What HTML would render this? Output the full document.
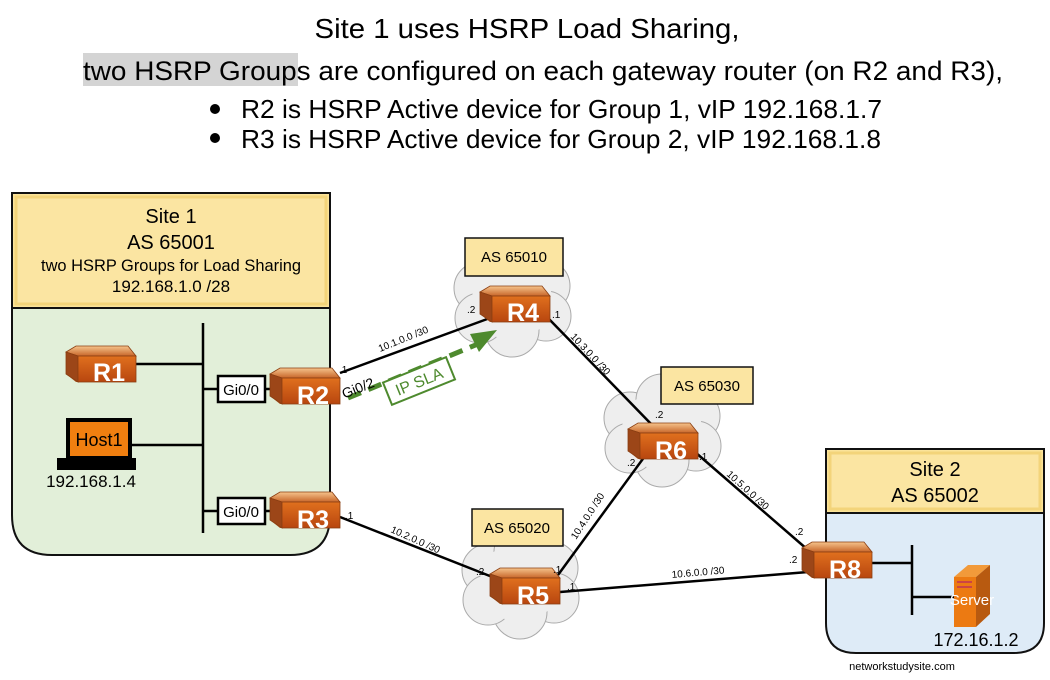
<!DOCTYPE html>
<html><head><meta charset="utf-8"><style>
html,body{margin:0;padding:0;background:#fff}
svg{display:block;font-family:"Liberation Sans",sans-serif}
</style></head><body>
<svg width="1050" height="680" viewBox="0 0 1050 680" xmlns="http://www.w3.org/2000/svg">
<defs>
<linearGradient id="top" x1="0" y1="0" x2="0" y2="1"><stop offset="0" stop-color="#f6c48c"/><stop offset="1" stop-color="#c8662a"/></linearGradient>
<linearGradient id="front" x1="0" y1="0" x2="0" y2="1"><stop offset="0" stop-color="#e0701e"/><stop offset="1" stop-color="#b8460f"/></linearGradient>
<g id="rt">
<polygon points="0,6 10,0 62,0 70,10 70,36 10,36 0,28" fill="#a9501c"/>
<polygon points="0,6 10,0 62,0 70,10 12,10" fill="url(#top)" stroke="#8a3e12" stroke-width="0.8"/>
<polygon points="0,6 12,10 12,36 0,28" fill="#9c4618" stroke="#8a3e12" stroke-width="0.8"/>
<rect x="12" y="10" width="58" height="26" fill="url(#front)" stroke="#8a3e12" stroke-width="0.8"/>
</g>
<g id="cloud" fill="#eeeeee" stroke="#aaa" stroke-width="1">
<circle cx="-32" cy="-12" r="26"/><circle cx="0" cy="-30" r="26"/><circle cx="32" cy="-14" r="26"/>
<circle cx="34" cy="16" r="25"/><circle cx="0" cy="30" r="27"/><circle cx="-32" cy="18" r="25"/>
<circle cx="0" cy="0" r="40" stroke="none"/>
</g>
</defs>

<!-- Title -->
<rect x="83" y="53" width="215" height="33" fill="#d4d4d4"/>
<text x="527" y="38" font-size="28" text-anchor="middle" textLength="425" lengthAdjust="spacingAndGlyphs">Site 1 uses HSRP Load Sharing,</text>
<text x="83" y="80" font-size="27" textLength="920" lengthAdjust="spacingAndGlyphs">two HSRP Groups are configured on each gateway router (on R2 and R3),</text>
<circle cx="215" cy="109" r="5" fill="#000"/><circle cx="215" cy="138" r="5" fill="#000"/>
<text x="241" y="118" font-size="26" textLength="641" lengthAdjust="spacingAndGlyphs">R2 is HSRP Active device for Group 1, vIP 192.168.1.7</text>
<text x="241" y="148" font-size="26" textLength="640" lengthAdjust="spacingAndGlyphs">R3 is HSRP Active device for Group 2, vIP 192.168.1.8</text>

<!-- Site 1 -->
<path d="M12,193 H330 V515 Q330,555 290,555 H52 Q12,555 12,515 Z" fill="#e2efd9" stroke="#111" stroke-width="2"/>
<rect x="12" y="193" width="318" height="115" fill="#fbe39a" stroke="#111" stroke-width="2"/>
<rect x="16" y="197" width="310" height="107" fill="#fbe5a2" stroke="#f3d47a" stroke-width="3"/>
<g text-anchor="middle">
<text x="171" y="223" font-size="20">Site 1</text>
<text x="171" y="249" font-size="20">AS 65001</text>
<text x="171" y="271" font-size="17" textLength="260" lengthAdjust="spacingAndGlyphs">two HSRP Groups  for Load Sharing</text>
<text x="171" y="292" font-size="17">192.168.1.0 /28</text>
</g>

<!-- Site 2 -->
<path d="M826,449 H1044 V623 Q1044,653 1014,653 H856 Q826,653 826,623 Z" fill="#deebf7" stroke="#111" stroke-width="2"/>
<rect x="826" y="449" width="218" height="64" fill="#fbe39a" stroke="#111" stroke-width="2"/>
<rect x="830" y="453" width="210" height="56" fill="#fbe5a2" stroke="#f3d47a" stroke-width="3"/>
<text x="935" y="476" font-size="20" text-anchor="middle">Site 2</text>
<text x="935" y="502" font-size="20" text-anchor="middle">AS 65002</text>

<!-- clouds -->
<use href="#cloud" x="512" y="300"/>
<use href="#cloud" x="662" y="430"/>
<use href="#cloud" x="520" y="582"/>

<!-- links -->
<g stroke="#000" stroke-width="2.5" fill="none">
<line x1="340" y1="373" x2="490" y2="318"/>
<line x1="340" y1="517" x2="500" y2="580"/>
<line x1="548" y1="318" x2="655" y2="428"/>
<line x1="645" y1="456" x2="558" y2="575"/>
<line x1="695" y1="452" x2="808" y2="550"/>
<line x1="560" y1="592" x2="808" y2="572"/>
<line x1="203" y1="323" x2="203" y2="533"/>
<line x1="135" y1="364" x2="203" y2="364"/>
<line x1="130" y1="445" x2="203" y2="445"/>
<line x1="203" y1="389" x2="218" y2="389"/><line x1="265" y1="389" x2="274" y2="389"/>
<line x1="203" y1="511" x2="218" y2="511"/><line x1="265" y1="511" x2="274" y2="511"/>
<line x1="912" y1="545" x2="912" y2="615"/>
<line x1="868" y1="563" x2="912" y2="563"/>
<line x1="912" y1="597" x2="955" y2="597"/>
</g>

<!-- Gi0/0 boxes -->
<rect x="218" y="376" width="47" height="26" fill="#fff" stroke="#000" stroke-width="2.5"/>
<rect x="218" y="498" width="47" height="26" fill="#fff" stroke="#000" stroke-width="2.5"/>
<text x="241" y="395" font-size="15" text-anchor="middle">Gi0/0</text>
<text x="241" y="517" font-size="15" text-anchor="middle">Gi0/0</text>

<!-- AS labels -->
<g font-size="15" text-anchor="middle">
<rect x="465" y="238" width="98" height="38" fill="#fbe5a2" stroke="#111" stroke-width="1.5"/>
<text x="514" y="262">AS 65010</text>
<rect x="661" y="367" width="92" height="37" fill="#fbe5a2" stroke="#111" stroke-width="1.5"/>
<text x="707" y="391">AS 65030</text>
<rect x="472" y="509" width="91" height="37" fill="#fbe5a2" stroke="#111" stroke-width="1.5"/>
<text x="517" y="533">AS 65020</text>
</g>

<!-- routers -->
<g font-size="25" font-weight="bold" fill="#fff" text-anchor="middle">
<use href="#rt" x="66" y="346"/><text x="109" y="381">R1</text>
<use href="#rt" x="270" y="368"/><text x="313" y="404">R2</text>
<use href="#rt" x="270" y="492"/><text x="313" y="528">R3</text>
<use href="#rt" x="480" y="286"/><text x="523" y="321">R4</text>
<use href="#rt" x="490" y="568"/><text x="533" y="604">R5</text>
<use href="#rt" x="628" y="423"/><text x="671" y="459">R6</text>
<use href="#rt" x="802" y="542"/><text x="845" y="578">R8</text>
</g>

<!-- Host1 -->
<rect x="68" y="420" width="62" height="38" fill="#f07f10" stroke="#000" stroke-width="4"/>
<text x="99" y="446" font-size="18" text-anchor="middle">Host1</text>
<rect x="57" y="458" width="79" height="12" fill="#000"/>
<text x="91" y="487" font-size="17" text-anchor="middle">192.168.1.4</text>

<!-- Server -->
<polygon points="954,577 968,565 990,565 976,577" fill="#f29a3a"/>
<polygon points="976,577 990,565 990,614 976,627" fill="#b85a10"/>
<rect x="954" y="577" width="22" height="50" fill="#ec7a12"/>
<rect x="957" y="581" width="15" height="2" fill="#c44"/><rect x="957" y="586" width="15" height="2" fill="#c44"/>
<text x="972" y="605" font-size="15" fill="#fff" text-anchor="middle">Server</text>
<text x="976" y="646" font-size="18" text-anchor="middle">172.16.1.2</text>
<text x="902" y="670" font-size="11" text-anchor="middle">networkstudysite.com</text>

<!-- IP SLA -->
<line x1="348" y1="398" x2="478" y2="344" stroke="#4e8a2e" stroke-width="5" stroke-dasharray="14,8"/>
<polygon points="497,330 470,334 479,352" fill="#4e8a2e"/>
<g transform="translate(419,381) rotate(-22)">
<rect x="-34" y="-12" width="68" height="24" fill="#fff" stroke="#4e8a2e" stroke-width="2"/>
<text x="0" y="6" font-size="16" fill="#4e8a2e" text-anchor="middle">IP SLA</text>
</g>
<text x="341" y="394" font-size="14" transform="rotate(-22 355 388)">Gi0/2</text>

<!-- IP labels -->
<g font-size="10">
<text x="339" y="373">.1</text>
<text x="467" y="313">.2</text>
<text x="552" y="318">.1</text>
<text x="345" y="519">.1</text>
<text x="476" y="575">.2</text>
<text x="553" y="573">.1</text>
<text x="567" y="590">.1</text>
<text x="655" y="418">.2</text>
<text x="627" y="466">.2</text>
<text x="699" y="460">.1</text>
<text x="795" y="535">.2</text>
<text x="789" y="563">.2</text>
<text x="380" y="352" transform="rotate(-22 380 352)">10.1.0.0 /30</text>
<text x="390" y="532" transform="rotate(24 390 532)">10.2.0.0 /30</text>
<text x="570" y="337" transform="rotate(47 570 337)">10.3.0.0 /30</text>
<text x="576" y="540" transform="rotate(-57 576 540)">10.4.0.0 /30</text>
<text x="726" y="475" transform="rotate(42 726 475)">10.5.0.0 /30</text>
<text x="672" y="578" transform="rotate(-5 672 578)">10.6.0.0 /30</text>
</g>
</svg>
</body></html>
